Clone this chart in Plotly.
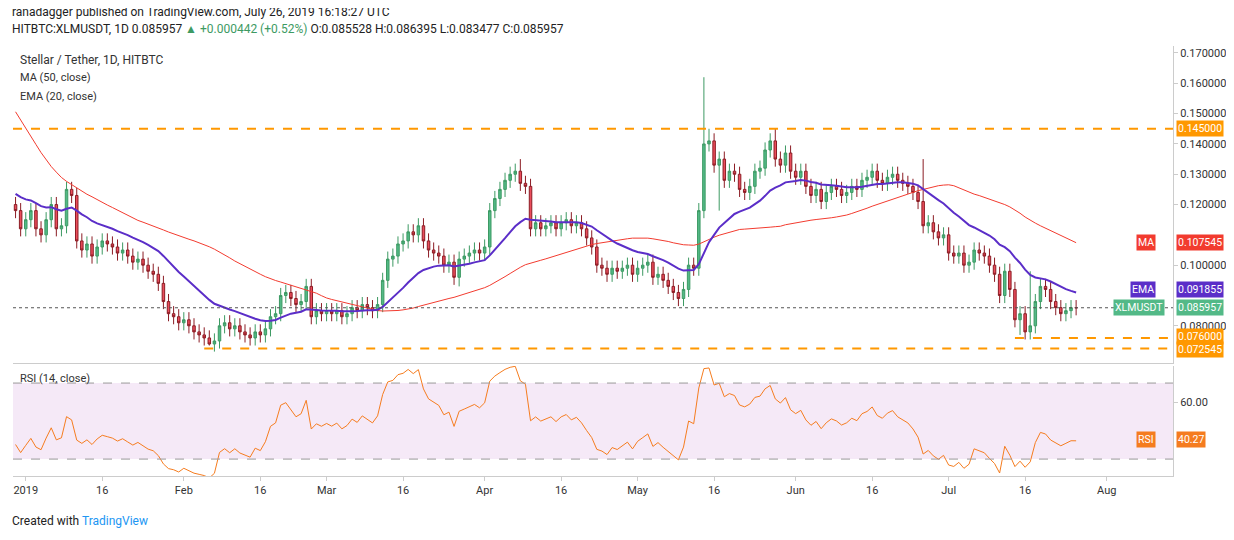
import plotly.graph_objects as go
from plotly.subplots import make_subplots
import pandas as pd

pre_closes = [0.255,0.252,0.250,0.248,0.246,0.244,0.240,0.225,0.205,0.200,0.190,0.175,0.170,0.160,0.150,0.145,0.155,0.152,0.150,0.147,0.145,0.150,0.148,0.146,0.138,0.130,0.128,0.125,0.128,0.124,0.118,0.115,0.112,0.110,0.108,0.105,0.106,0.108,0.110,0.115,0.125,0.130,0.128,0.132,0.124,0.120,0.122,0.118,0.120,0.120]

closes = [0.118,0.112,
0.115,0.118,0.112,0.110,0.115,0.120,0.112,0.113,0.125,0.123,0.108,0.105,0.107,0.103,0.106,0.108,0.107,0.106,0.104,0.105,0.103,0.101,0.102,0.100,0.098,0.097,0.094,0.088,0.084,0.083,0.081,
0.082,0.080,0.078,0.077,0.076,0.074,0.075,0.080,0.081,0.079,0.080,0.078,0.077,0.076,0.078,0.077,0.079,0.083,0.084,0.090,0.091,0.089,0.087,0.088,0.093,0.083,0.085,0.084,
0.085,0.084,0.085,0.083,0.084,0.086,0.085,0.087,0.086,0.085,0.087,0.095,0.102,0.103,0.107,0.108,0.111,0.110,0.113,0.108,0.105,0.104,0.103,0.100,0.101,0.096,0.102,0.103,0.104,0.105,0.104,
0.106,0.118,0.122,0.125,0.128,0.130,0.131,0.127,0.126,0.112,0.114,0.112,0.113,0.114,0.112,0.114,0.115,0.113,0.114,0.112,0.109,0.106,0.100,0.099,0.097,0.099,0.098,0.099,0.100,0.097,
0.099,0.100,0.101,0.096,0.097,0.095,0.093,0.091,0.089,0.092,0.100,0.099,0.118,0.140,0.141,0.133,0.135,0.128,0.131,0.130,0.125,0.124,0.126,0.131,0.132,0.138,0.141,0.135,0.133,0.137,0.131,
0.129,0.131,0.126,0.123,0.125,0.121,0.124,0.126,0.125,0.123,0.124,0.126,0.125,0.128,0.129,0.131,0.128,0.127,0.129,0.130,0.128,0.127,0.126,0.124,0.121,0.113,0.114,0.111,0.109,0.110,
0.104,0.103,0.104,0.100,0.101,0.105,0.104,0.103,0.100,0.097,0.090,0.098,0.092,0.082,0.084,0.078,0.080,0.088,0.093,0.092,0.088,0.086,0.084,0.085,0.086,0.085957]
first_open = 0.120
spike_highs = {"2019-05-14": 0.162, "2019-05-15": 0.145, "2019-05-28": 0.145, "2019-04-08": 0.135, "2019-06-26": 0.135, "2019-07-17": 0.098}
spike_lows = {"2019-05-17": 0.118, "2019-07-15": 0.077, "2019-02-06": 0.0735, "2019-03-27": 0.093}
levels = [0.145, 0.076, 0.072545]

dates = pd.date_range("2018-12-30", periods=len(closes), freq="D")
opens = [first_open] + closes[:-1]
highs, lows = [], []
for d, o, c in zip(dates, opens, closes):
    k = d.strftime("%Y-%m-%d")
    highs.append(spike_highs.get(k, max(o, c) + 0.0025))
    lows.append(spike_lows.get(k, min(o, c) - 0.0025))

allc = pd.Series(pre_closes + closes)
n0 = len(pre_closes)
ma = allc.rolling(50).mean().iloc[n0:].values
ema = allc.ewm(span=20, adjust=False).mean().iloc[n0:].values
delta = allc.diff()
up = delta.clip(lower=0).ewm(alpha=1/14, adjust=False).mean()
dn = (-delta.clip(upper=0)).ewm(alpha=1/14, adjust=False).mean()
rsi = (100 - 100 / (1 + up / dn)).iloc[n0:].values

fig = make_subplots(rows=2, cols=1, shared_xaxes=True, vertical_spacing=0.0)
fig.add_trace(go.Candlestick(x=dates, open=opens, high=highs, low=lows, close=closes,
    increasing=dict(line=dict(color="#3d9a63", width=1), fillcolor="#53b987"),
    decreasing=dict(line=dict(color="#8b1c24", width=1), fillcolor="#eb4d5c"),
    whiskerwidth=0, showlegend=False), row=1, col=1)
fig.add_trace(go.Scatter(x=dates, y=ma, mode="lines", line=dict(color="#f23b2f", width=1), showlegend=False), row=1, col=1)
fig.add_trace(go.Scatter(x=dates, y=ema, mode="lines", line=dict(color="#5b2ec8", width=2), showlegend=False), row=1, col=1)
fig.add_trace(go.Scatter(x=dates, y=rsi, mode="lines", line=dict(color="#f57c1f", width=1), showlegend=False), row=2, col=1)

xr = ["2018-12-29 12:00", "2019-08-14"]
fig.add_shape(type="line", x0=xr[0], x1=xr[1], y0=levels[0], y1=levels[0], line=dict(color="#ff9800", width=2, dash="dash"), row=1, col=1)
fig.add_shape(type="line", x0="2019-07-14", x1=xr[1], y0=levels[1], y1=levels[1], line=dict(color="#ff9800", width=2, dash="dash"), row=1, col=1)
fig.add_shape(type="line", x0="2019-02-05", x1=xr[1], y0=levels[2], y1=levels[2], line=dict(color="#ff9800", width=2, dash="dash"), row=1, col=1)
fig.add_shape(type="line", x0=xr[0], x1=xr[1], y0=closes[-1], y1=closes[-1], line=dict(color="#555", width=1, dash="dot"), row=1, col=1)
fig.add_shape(type="rect", x0=xr[0], x1=xr[1], y0=30, y1=70, fillcolor="rgba(156,39,176,0.1)", line=dict(width=0), layer="below", row=2, col=1)
for lv in (30, 70):
    fig.add_shape(type="line", x0=xr[0], x1=xr[1], y0=lv, y1=lv, line=dict(color="#999", width=1, dash="dash"), row=2, col=1)

tickvals = ["2019-01-01","2019-01-16","2019-02-01","2019-02-16","2019-03-01","2019-03-16","2019-04-01","2019-04-16","2019-05-01","2019-05-16","2019-06-01","2019-06-16","2019-07-01","2019-07-16","2019-08-01"]
ticktext = ["2019","16","Feb","16","Mar","16","Apr","16","May","16","Jun","16","Jul","16","Aug"]
yticks = [0.08,0.10,0.12,0.13,0.14,0.15,0.16,0.17]

fig.update_layout(width=1234, height=540, margin=dict(l=5, r=69, t=38, b=52),
    paper_bgcolor="white", plot_bgcolor="white", font=dict(family="Roboto, Arial", size=11, color="#333"),
    xaxis=dict(range=xr, rangeslider=dict(visible=False), showgrid=False, showticklabels=False, showline=True, linecolor="#ccc"),
    xaxis2=dict(range=xr, tickvals=tickvals, ticktext=ticktext, showgrid=False, showline=True, linecolor="#ccc", ticks="outside", ticklen=4, tickcolor="#ccc"),
    yaxis=dict(domain=[0.296, 1], range=[0.0678, 0.1723], side="right", tickvals=yticks, ticktext=[f"{v:.6f}" for v in yticks], showgrid=False, showline=True, linecolor="#ccc", ticks="outside", ticklen=4, tickcolor="#ccc"),
    yaxis2=dict(domain=[0.044, 0.289], range=[21, 79], side="right", tickvals=[60], ticktext=["60.00"], showgrid=False, showline=True, linecolor="#ccc", ticks="outside", ticklen=4, tickcolor="#ccc"))

def tag(y, text, color, yref="y", x=1.003, xanchor="left"):
    fig.add_annotation(xref="paper", yref=yref, x=x, y=y, text=text, showarrow=False, xanchor=xanchor,
        bgcolor=color, font=dict(color="white", size=10.5), borderpad=1)

tag(0.145, "0.145000", "#ff9800")
tag(0.107545, "0.107545", "#f23b2f")
tag(0.107545, "MA", "#f23b2f", x=0.985, xanchor="right")
tag(0.091855, "0.091855", "#5b2ec8")
tag(0.091855, "EMA", "#5b2ec8", x=0.985, xanchor="right")
tag(0.085957, "0.085957", "#53b987")
tag(0.085957, "XLMUSDT", "#53b987", x=0.948)
tag(0.0764, "0.076000", "#ff9800")
tag(0.0722, "0.072545", "#ff9800")
tag(40.27, "40.27", "#f57c1f", yref="y2")
tag(40.27, "RSI", "#f57c1f", yref="y2", x=0.985, xanchor="right")

fig.add_annotation(xref="paper", yref="paper", x=-0.003, y=1.095, xanchor="left", showarrow=False, font=dict(size=12, color="#222"),
    text="ranadagger published on TradingView.com, July 26, 2019 16:18:27 UTC")
fig.add_annotation(xref="paper", yref="paper", x=-0.003, y=1.057, xanchor="left", showarrow=False, font=dict(size=12, color="#222"),
    text="HITBTC:XLMUSDT, 1D 0.085957 <span style='color:#3d9a63'>▲ +0.000442 (+0.52%)</span> O:0.085528 H:0.086395 L:0.083477 C:0.085957")
for i, t in enumerate(["Stellar / Tether, 1D, HITBTC", "MA (50, close)", "EMA (20, close)"]):
    fig.add_annotation(xref="paper", yref="paper", x=0.004, y=0.99 - i * 0.042, xanchor="left", yanchor="top", showarrow=False,
        font=dict(size=12 if i == 0 else 11, color="#333"), text=t)
fig.add_annotation(xref="paper", yref="paper", x=0.004, y=0.28, xanchor="left", yanchor="top", showarrow=False, font=dict(size=11, color="#333"), text="RSI (14, close)")
fig.add_annotation(xref="paper", yref="paper", x=-0.003, y=-0.075, xanchor="left", showarrow=False, font=dict(size=12, color="#222"),
    text="Created with <span style='color:#2196f3'>TradingView</span>")

fig.write_html("out.html")
